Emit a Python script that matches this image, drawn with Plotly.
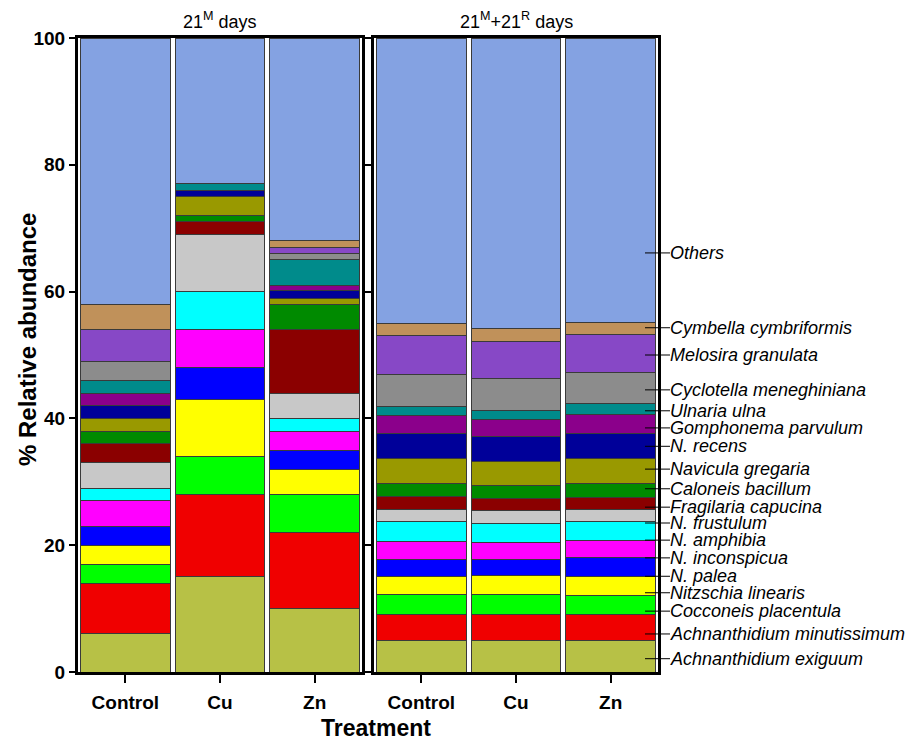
import plotly.graph_objects as go

# ---------------- data ----------------
treatments = ["Control", "Cu", "Zn"]
species = [
    "Achnanthidium exiguum", "Achnanthidium minutissimum", "Cocconeis placentula",
    "Nitzschia linearis", "N. palea", "N. inconspicua", "N. amphibia", "N. frustulum",
    "Fragilaria capucina", "Caloneis bacillum", "Navicula gregaria", "N. recens",
    "Gomphonema parvulum", "Ulnaria ulna", "Cyclotella meneghiniana", "Melosira granulata",
    "Cymbella cymbriformis", "Others",
]
# 21M days (values per species, bottom to top)
m21_control = [6, 8, 3, 3, 3, 4, 2, 4, 3, 2, 2, 2, 2, 2, 3, 5, 4, 42]
m21_cu      = [15, 13, 6, 9, 5, 6, 6, 9, 2, 1, 3, 1, 0, 1, 0, 0, 0, 23]
m21_zn      = [10, 12, 6, 4, 3, 3, 2, 4, 10, 4, 0.9, 1.2, 0.9, 4, 1, 1, 1, 32]
# 21M+21R days
r21_control = [5.0, 4.1, 3.1, 2.9, 2.6, 2.9, 3.1, 1.9, 2.1, 2.0, 3.9, 4.0, 2.8, 1.4, 5.2, 6.0, 2.0, 45.0]
r21_cu      = [5.0, 4.1, 3.2, 2.9, 2.5, 2.8, 2.9, 2.0, 2.0, 2.0, 3.8, 4.0, 2.7, 1.4, 5.0, 5.9, 2.0, 45.8]
r21_zn      = [5.0, 4.1, 3.0, 2.9, 3.0, 2.7, 3.0, 1.9, 2.0, 2.2, 3.8, 4.0, 3.0, 1.7, 4.9, 6.0, 2.0, 44.8]
y_ticks = [0, 20, 40, 60, 80, 100]

# ---------------- styles ----------------
colors = [
    "#B7C146", "#F00000", "#00FF00", "#FFFF00", "#0000FF", "#FF00FF", "#00FFFF", "#C8C8C8",
    "#8B0000", "#008A00", "#999900", "#000099", "#8B008B", "#008B8B", "#8C8C8C", "#8748C6",
    "#C0915A", "#84A2E2",
]
# label y-positions (annotation layout, in axis units)
label_y = [2.1, 6.0, 9.6, 12.5, 15.1, 18.0, 20.8, 23.5, 26.0, 28.9, 32.0, 35.6,
           38.5, 41.2, 44.5, 50.0, 54.3, 66.1]

W, H = 920, 742
FONT = "Liberation Sans, Arial, sans-serif"

def px_x(p):
    return p / W

def px_y(p):
    return 1 - p / H

fig = go.Figure()
for i, sp in enumerate(species):
    fig.add_trace(go.Bar(
        x=treatments, y=[m21_control[i], m21_cu[i], m21_zn[i]],
        marker=dict(color=colors[i], line=dict(color="#3a3a3a", width=1)),
        name=sp, showlegend=False, xaxis="x", yaxis="y",
    ))
    fig.add_trace(go.Bar(
        x=treatments, y=[r21_control[i], r21_cu[i], r21_zn[i]],
        marker=dict(color=colors[i], line=dict(color="#3a3a3a", width=1)),
        name=sp, showlegend=False, xaxis="x2", yaxis="y2",
    ))

ydom = [px_y(672), px_y(38)]
xaxis_common = dict(
    showline=True, linewidth=3, linecolor="black", mirror=True,
    ticks="outside", ticklen=8, tickwidth=2, tickcolor="black",
    tickfont=dict(family=FONT, size=19, color="black", weight="bold"),
    ticklabelstandoff=3, showgrid=False, zeroline=False, automargin=False,
    range=[-0.5, 2.5], fixedrange=True,
)
fig.update_layout(
    width=W, height=H,
    margin=dict(l=0, r=0, t=0, b=0, pad=0, autoexpand=False),
    paper_bgcolor="white", plot_bgcolor="white",
    barmode="stack", bargap=0.05,
    xaxis=dict(domain=[px_x(78), px_x(362)], anchor="y", **xaxis_common),
    xaxis2=dict(domain=[px_x(374), px_x(658)], anchor="y2", **xaxis_common),
    yaxis=dict(
        domain=ydom, anchor="x", range=[0, 100], tickvals=y_ticks,
        showline=True, linewidth=3, linecolor="black", mirror="ticks",
        ticks="outside", ticklen=6, tickwidth=2, tickcolor="black",
        tickfont=dict(family=FONT, size=19, color="black", weight="bold"),
        showgrid=False, zeroline=False, automargin=False,
    ),
    yaxis2=dict(
        domain=ydom, anchor="x2", range=[0, 100], tickvals=y_ticks,
        showline=True, linewidth=3, linecolor="black", mirror=True,
        ticks="outside", ticklen=6, tickwidth=2, tickcolor="black",
        showticklabels=False, showgrid=False, zeroline=False, automargin=False,
    ),
)

annotations = [
    dict(text="21<sup>M</sup> days", x=px_x(220), y=px_y(21), xref="paper", yref="paper",
         showarrow=False, xanchor="center", yanchor="middle",
         font=dict(family=FONT, size=18, color="black")),
    dict(text="21<sup>M</sup>+21<sup>R</sup> days", x=px_x(516), y=px_y(21), xref="paper", yref="paper",
         showarrow=False, xanchor="center", yanchor="middle",
         font=dict(family=FONT, size=18, color="black")),
    dict(text="% Relative abundance", x=px_x(27), y=px_y(340), xref="paper", yref="paper",
         showarrow=False, textangle=-90, xanchor="center", yanchor="middle",
         font=dict(family=FONT, size=24, color="black", weight="bold")),
    dict(text="Treatment", x=px_x(376), y=px_y(728), xref="paper", yref="paper",
         showarrow=False, xanchor="center", yanchor="middle",
         font=dict(family=FONT, size=23, color="black", weight="bold")),
]
shapes = []
for sp, ly in zip(species, label_y):
    annotations.append(dict(
        text=sp, x=px_x(668), y=ly, xref="paper", yref="y2",
        showarrow=False, xanchor="left", yanchor="middle",
        font=dict(family=FONT, size=18, color="black", style="italic"),
    ))
    shapes.append(dict(
        type="line", xref="paper", yref="y2", x0=px_x(645), x1=px_x(670), y0=ly, y1=ly,
        line=dict(color="black", width=1),
    ))
fig.update_layout(annotations=annotations, shapes=shapes)

fig.write_html("out.html")
